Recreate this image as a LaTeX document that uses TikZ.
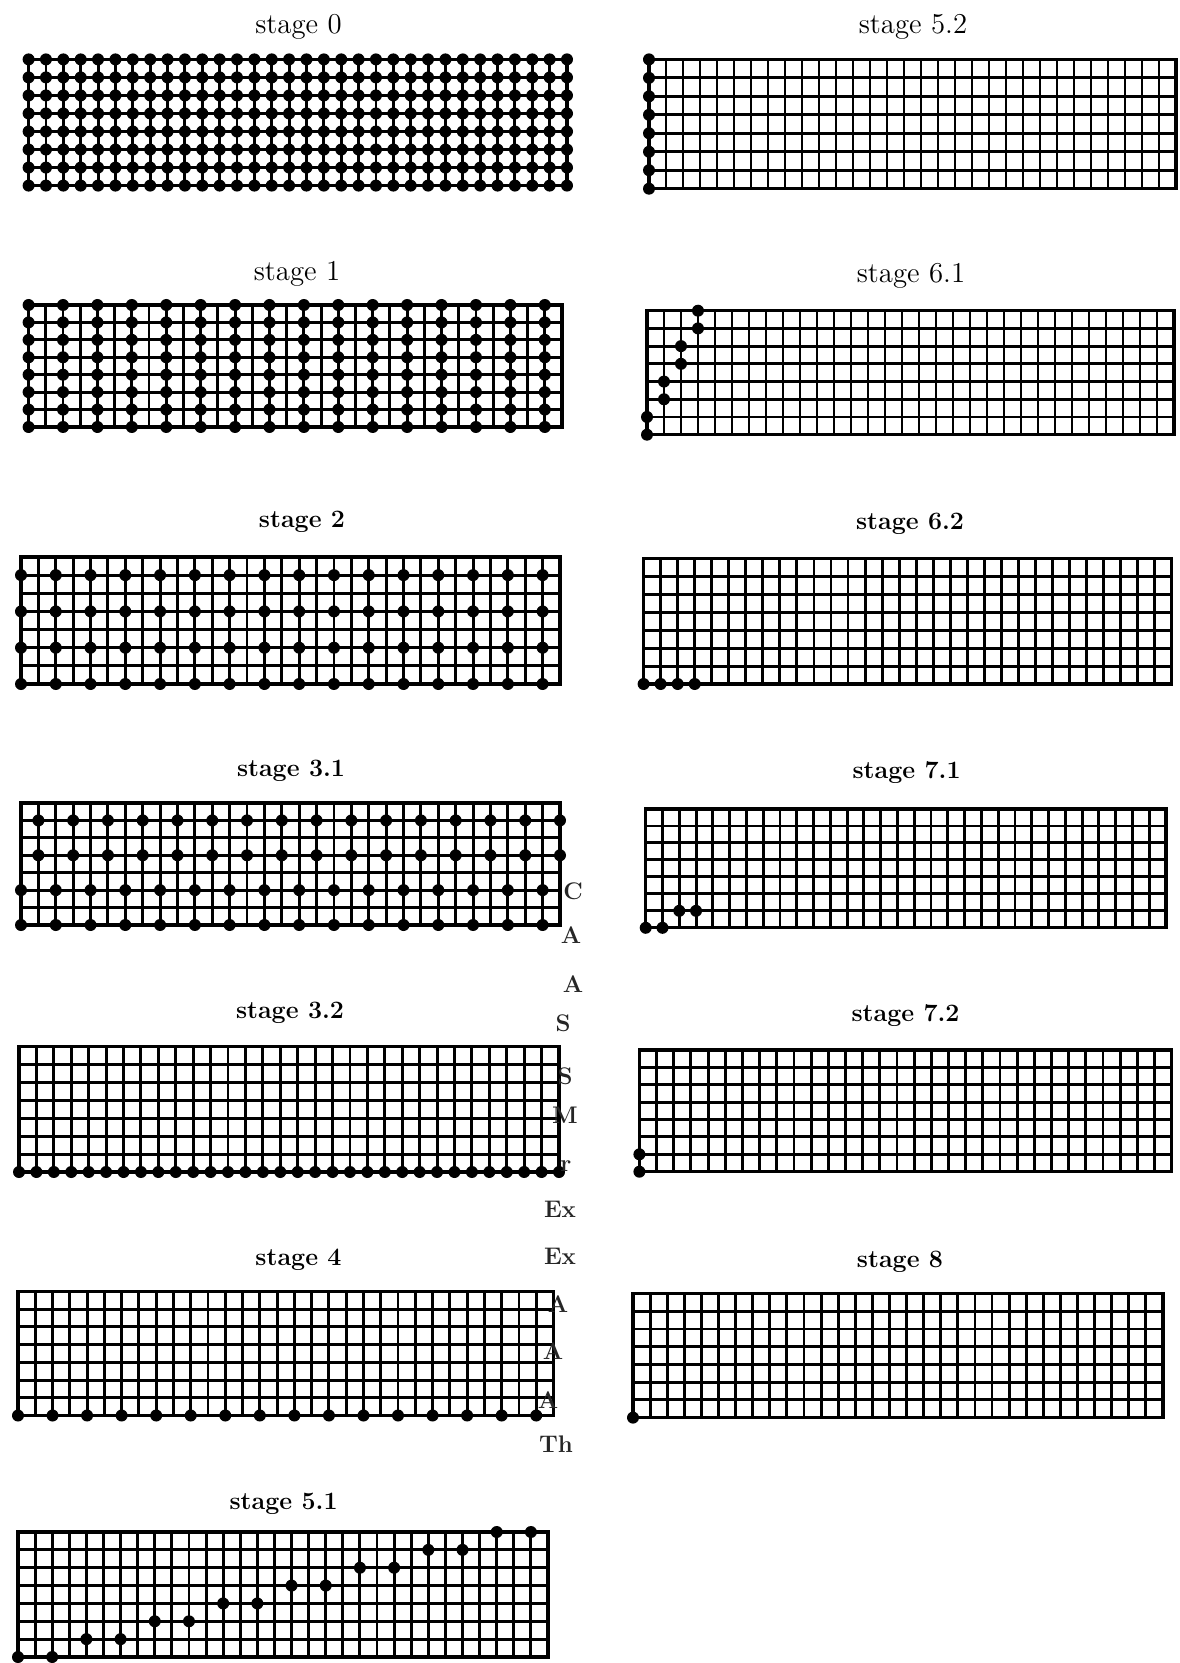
\documentclass[tikz,border=0pt]{standalone}
\begin{document}
\begin{tikzpicture}[x=0.5pt,y=-0.5pt,
  gline/.style={line width=1.45pt,black},
  gframe/.style={line width=1.6pt,black},
  dotfill/.style={fill=black},
  ttlnorm/.style={font=\fontsize{14.4}{16}\selectfont, inner sep=0pt},
  ttlbold/.style={font=\fontsize{12.5}{15}\selectfont\bfseries, inner sep=0pt},
  frag/.style={font=\fontsize{12}{14}\selectfont\bfseries, inner sep=0pt, text=black!85}]
\useasboundingbox (0,0) rectangle (1179,1663);
\newcommand\grd[4]{%
  \def\gx{#1}\def\gb{#4}%
  \pgfmathsetmacro\gw{(#3-#1)/31}%
  \pgfmathsetmacro\gh{(#4-#2)/7}%
  \foreach \i in {1,...,30} \draw[gline] ({#1+\i*\gw},#2) -- ({#1+\i*\gw},#4);
  \foreach \j in {1,...,6} \draw[gline] (#1,{#2+\j*\gh}) -- (#3,{#2+\j*\gh});
  \draw[gframe] (#1,#2) rectangle (#3,#4);
}
\newcommand\dt[2]{\fill[dotfill] ({\gx+(#1)*\gw},{\gb-(#2)*\gh}) circle[radius=3pt];}
% ---------- titles ----------
\node[ttlnorm] (t0)  at (298.5,26.5)  {stage 0};
\node[ttlnorm] (t1)  at (297,273.6)   {stage 1};
\node[ttlbold] (t2)  at (302,521.7)   {stage 2};
\node[ttlbold] (t31) at (291,771)     {stage 3.1};
\node[ttlbold] (t32) at (290,1012.6)  {stage 3.2};
\node[ttlbold] (t4)  at (298.5,1259.6){stage 4};
\node[ttlbold] (t51) at (283.6,1503.5){stage 5.1};
\node[ttlnorm] (t52) at (913,26.5)    {stage 5.2};
\node[ttlnorm] (t61) at (911,275.7)   {stage 6.1};
\node[ttlbold] (t62) at (910,523.8)   {stage 6.2};
\node[ttlbold] (t71) at (906.6,773)   {stage 7.1};
\node[ttlbold] (t72) at (905.5,1015.8){stage 7.2};
\node[ttlbold] (t8)  at (900,1261.7)  {stage 8};
% ---------- stage 0 ----------
\grd{28.6}{59.4}{567}{185.6}
\foreach \c in {0,...,31}{\foreach \r in {0,...,7}{\dt{\c}{\r}}}
% ---------- stage 1 ----------
\grd{28.6}{305}{562}{427}
\foreach \c in {0,2,...,30}{\foreach \r in {0,...,7}{\dt{\c}{\r}}}
% ---------- stage 2 ----------
\grd{21}{557}{560}{684}
\foreach \c in {0,2,...,30}{\foreach \r in {0,2,4,6}{\dt{\c}{\r}}}
% ---------- stage 3.1 ----------
\grd{21}{803}{560}{925}
\foreach \c in {0,2,...,30}{\foreach \r in {0,2}{\dt{\c}{\r}}}
\foreach \c in {1,3,...,31}{\foreach \r in {4,6}{\dt{\c}{\r}}}
% ---------- stage 3.2 ----------
\grd{19}{1046.5}{559}{1172}
\foreach \c in {0,...,31}{\dt{\c}{0}}
% ---------- stage 4 ----------
\grd{18}{1291.5}{553.5}{1415.5}
\foreach \c in {0,2,...,30}{\dt{\c}{0}}
% ---------- stage 5.1 ----------
\grd{18}{1532}{548}{1657}
\foreach \k in {0,...,7}{\dt{4*\k}{\k}\dt{4*\k+2}{\k}}
% ---------- stage 5.2 ----------
\grd{649}{59.4}{1176}{188.7}
\foreach \r in {0,...,7}{\dt{0}{\r}}
% ---------- stage 6.1 ----------
\grd{647}{310.7}{1174}{434.7}
\foreach \k in {0,...,3}{\dt{\k}{2*\k}\dt{\k}{2*\k+1}}
% ---------- stage 6.2 ----------
\grd{643.6}{558.8}{1171.7}{684}
\foreach \c in {0,...,3}{\dt{\c}{0}}
% ---------- stage 7.1 ----------
\grd{645.7}{809}{1166}{927.8}
\dt{0}{0}\dt{1}{0}\dt{2}{1}\dt{3}{1}
% ---------- stage 7.2 ----------
\grd{639.4}{1050}{1171.7}{1171.7}
\dt{0}{0}\dt{0}{1}
% ---------- stage 8 ----------
\grd{633}{1293.6}{1163}{1417.6}
\dt{0}{0}
% ---------- bleed-through fragments ----------
\node[frag] (f1)  at (573,891)  {C};
\node[frag] (f2)  at (571,935)  {A};
\node[frag] (f3)  at (573,984)  {A};
\node[frag] (f4)  at (563,1023) {S};
\node[frag] (f5)  at (565,1076) {S};
\node[frag] (f6)  at (565,1115) {M};
\node[frag] (f7)  at (566,1166) {r};
\node[frag] (f8)  at (560,1209) {Ex};
\node[frag] (f9)  at (560,1256) {Ex};
\node[frag] (f10) at (558,1304) {A};
\node[frag] (f11) at (553,1351) {A};
\node[frag] (f12) at (548,1400) {A};
\node[frag] (f13) at (556,1444) {Th};
\end{tikzpicture}
\end{document}
